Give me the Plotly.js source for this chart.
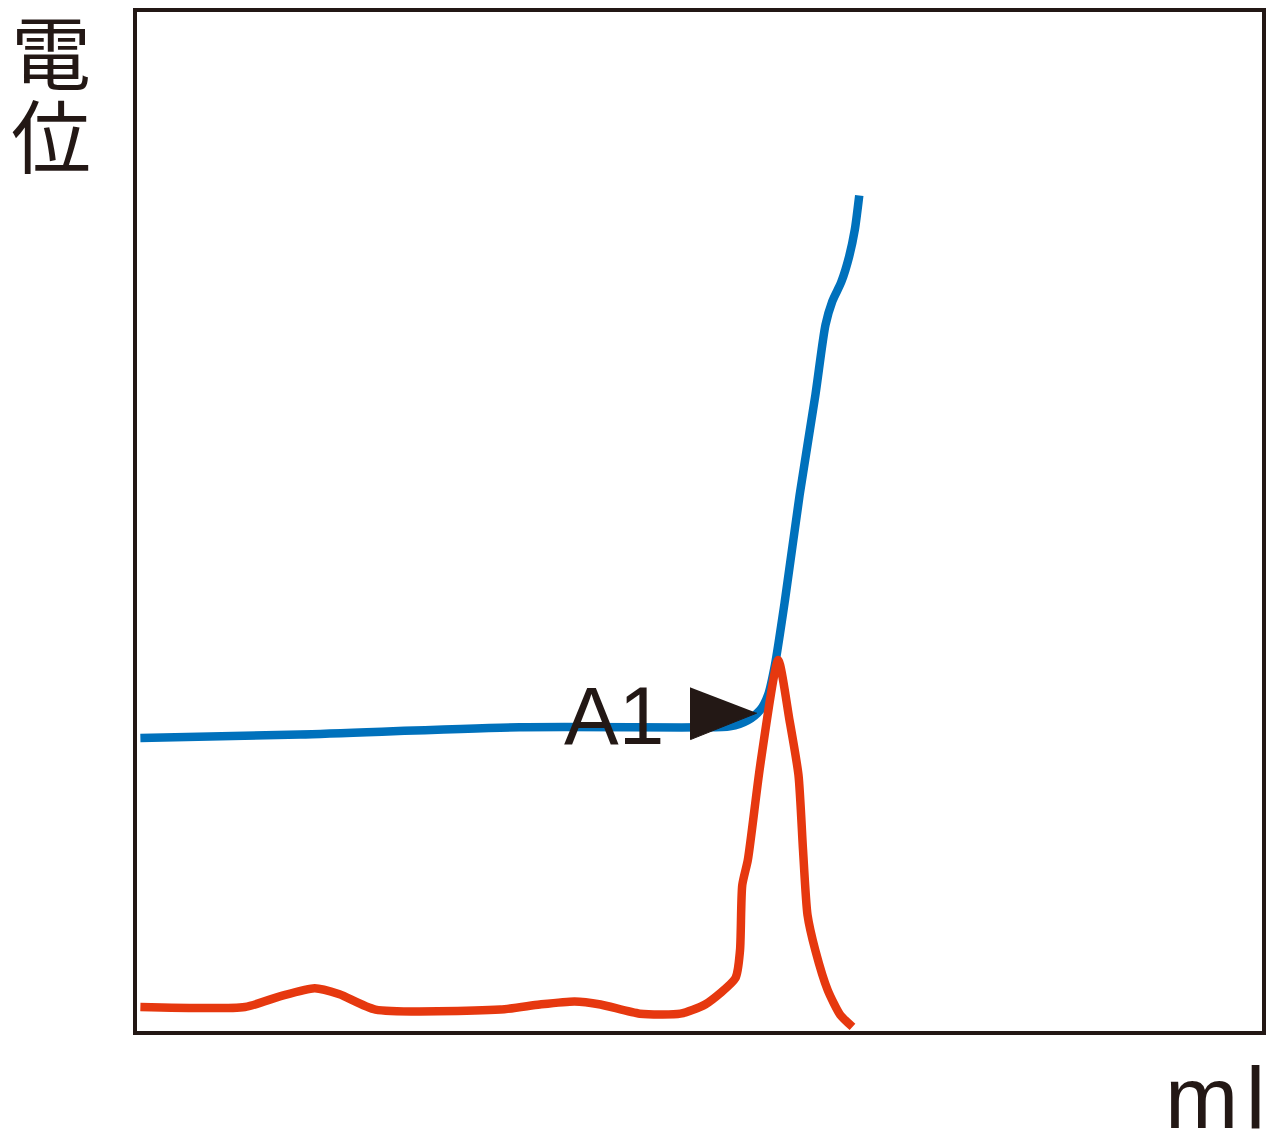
<!DOCTYPE html>
<html>
<head>
<meta charset="utf-8">
<script src="https://cdn.plot.ly/plotly-3.0.1.min.js"></script>
<style>html,body{margin:0;padding:0;background:#fff;}#chart{width:1280px;height:1142px;}</style>
</head>
<body>
<div id="chart"></div>
<script>
// Titration curve (potential vs ml), arbitrary units 0-100
const blueX = [0.3, 14.5, 34.0, 50.0, 52.7, 54.3, 55.4, 56.1, 56.7, 57.6, 58.9, 60.3, 61.2, 61.8, 62.6, 63.3, 63.8, 64.2];
const blueY = [28.75, 29.1, 29.8, 29.8, 29.9, 30.5, 31.5, 33.0, 35.9, 42.3, 52.6, 62.4, 69.3, 71.6, 73.5, 76.0, 78.6, 82.0];

// First derivative curve
const redX = [0.3, 9.6, 12.7, 15.8, 18.0, 21.2, 32.3, 35.8, 38.9, 41.2, 44.7, 48.3, 50.5, 53.2, 53.6, 53.8, 54.3, 55.4, 57.0, 58.0, 58.8, 59.2, 59.6, 60.3, 61.4, 62.5, 63.6];
const redY = [2.36, 2.36, 3.4, 4.2, 3.6, 2.1, 2.1, 2.6, 2.9, 2.6, 1.7, 1.7, 2.6, 5.2, 7.9, 14.3, 16.8, 26.1, 36.4, 30.5, 25.1, 17.8, 11.4, 7.9, 4.0, 1.6, 0.4];

// Annotation arrow marker (triangle) and label
const markerLabel = "A1";
const triX = [49.2, 49.2, 55.1];
const triY = [33.7, 28.6, 31.2];
const labelX = 42.4, labelY = 31.0;

const traces = [
  {x: blueX, y: blueY, mode: 'lines', line: {color: '#0071BC', width: 8.5, shape: 'spline', smoothing: 0.7}, hoverinfo: 'skip'},
  {x: redX, y: redY, mode: 'lines', line: {color: '#E6380F', width: 8.5, shape: 'spline', smoothing: 0.6}, hoverinfo: 'skip'},
  {x: triX, y: triY, mode: 'lines', fill: 'toself', fillcolor: '#231815', line: {color: '#231815', width: 1}, hoverinfo: 'skip'}
];

const layout = {
  width: 1280, height: 1142,
  margin: {l: 137, r: 18, t: 12, b: 111},
  paper_bgcolor: '#fff', plot_bgcolor: '#fff',
  showlegend: false,
  xaxis: {range: [0, 100], showgrid: false, zeroline: false, showticklabels: false, ticks: '',
          showline: true, mirror: true, linewidth: 4, linecolor: '#231815'},
  yaxis: {range: [0, 100], showgrid: false, zeroline: false, showticklabels: false, ticks: '',
          showline: true, mirror: true, linewidth: 4, linecolor: '#231815'},
  annotations: [
    {text: markerLabel, x: labelX, y: labelY, xref: 'x', yref: 'y', showarrow: false,
     font: {family: 'Liberation Sans, Arial, sans-serif', size: 82, color: '#231815'}},
    {text: '電', x: -0.0764, y: 0.965, xref: 'paper', yref: 'paper', showarrow: false, xanchor: 'center', yanchor: 'middle',
     font: {family: 'Noto Sans CJK JP, sans-serif', size: 80, color: '#231815'}},
    {text: '位', x: -0.0764, y: 0.882, xref: 'paper', yref: 'paper', showarrow: false, xanchor: 'center', yanchor: 'middle',
     font: {family: 'Noto Sans CJK JP, sans-serif', size: 80, color: '#231815'}},
    {text: 'm\u200Al', x: 1.004, y: -0.065, xref: 'paper', yref: 'paper', showarrow: false, xanchor: 'right', yanchor: 'middle',
     font: {family: 'Liberation Sans, Arial, sans-serif', size: 88, color: '#231815'}}
  ]
};

Plotly.newPlot('chart', traces, layout, {staticPlot: true, displayModeBar: false});
</script>
</body>
</html>
